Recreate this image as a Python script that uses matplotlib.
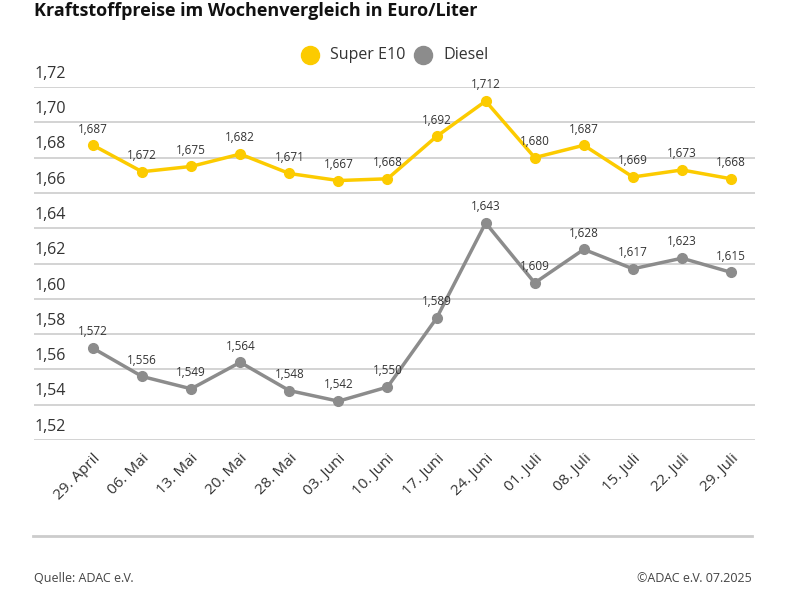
import matplotlib.pyplot as plt
import numpy as np

dates = ['29. April', '06. Mai', '13. Mai', '20. Mai', '28. Mai', '03. Juni', '10. Juni',
         '17. Juni', '24. Juni', '01. Juli', '08. Juli', '15. Juli', '22. Juli', '29. Juli']
e10 = [1.687, 1.672, 1.675, 1.682, 1.671, 1.667, 1.668, 1.692, 1.712, 1.680, 1.687, 1.669, 1.673, 1.668]
diesel = [1.572, 1.556, 1.549, 1.564, 1.548, 1.542, 1.550, 1.589, 1.643, 1.609, 1.628, 1.617, 1.623, 1.615]
yticks = [1.52, 1.54, 1.56, 1.58, 1.60, 1.62, 1.64, 1.66, 1.68, 1.70, 1.72]

plt.rcParams['font.family'] = 'Open Sans'
fig = plt.figure(figsize=(8, 6), dpi=100)
ax = fig.add_axes([34/800, 1-440/600, 721/800, 353/600])
x = np.arange(len(dates))

yellow, grey = '#fccb00', '#8c8c8c'
for vals, col in [(e10, yellow), (diesel, grey)]:
    ax.plot(x, vals, color=col, lw=2.5, marker='o', ms=7, zorder=3)
    for xi, v in zip(x, vals):
        ax.annotate(f'{v:.3f}'.replace('.', ','), (xi, v), xytext=(0, 7),
                    textcoords='offset points', ha='center', va='bottom',
                    fontsize=8.5, color='#333333', zorder=4)

ax.set_xlim(-59/49.08, (721-59)/49.08)
ax.set_ylim(1.52, 1.72)
ax.set_yticks(yticks)
ax.set_yticklabels([])
ax.tick_params(length=0)
ax.grid(axis='y', color='#cccccc', lw=1.2)
ax.set_axisbelow(True)
for s in ax.spines.values():
    s.set_visible(False)
for t in yticks:
    ax.text(0, t + 0.003, f'{t:.2f}'.replace('.', ','), transform=ax.get_yaxis_transform(),
            ha='left', va='bottom', fontsize=11.5, color='#333333')
ax.set_xticks(x)
ax.set_xticklabels(dates, rotation=45, ha='right', rotation_mode='anchor',
                   fontsize=11, color='#333333')
ax.tick_params(axis='x', pad=8)

# legend
ly = 1 - 55/600
fig.add_artist(plt.Line2D([310/800], [ly], marker='o', ms=13, color=yellow, lw=0))
fig.text(330/800, ly, 'Super E10', fontsize=11.5, color='#333333', va='center')
fig.add_artist(plt.Line2D([423/800], [ly], marker='o', ms=13, color=grey, lw=0))
fig.text(443/800, ly, 'Diesel', fontsize=11.5, color='#333333', va='center')

fig.text(34/800, 1-2/600, 'Kraftstoffpreise im Wochenvergleich in Euro/Liter',
         fontsize=13, fontweight='bold', color='#111111', va='top')

fig.add_artist(plt.Line2D([33/800, 752/800], [1-536/600]*2, color='#cccccc', lw=2))
fig.text(34/800, 1-578/600, 'Quelle: ADAC e.V.', fontsize=9, color='#444444', va='center')
fig.text(752/800, 1-578/600, '©ADAC e.V. 07.2025', fontsize=9, color='#444444',
         va='center', ha='right')

fig.savefig('out.png', dpi=100, facecolor='white')
